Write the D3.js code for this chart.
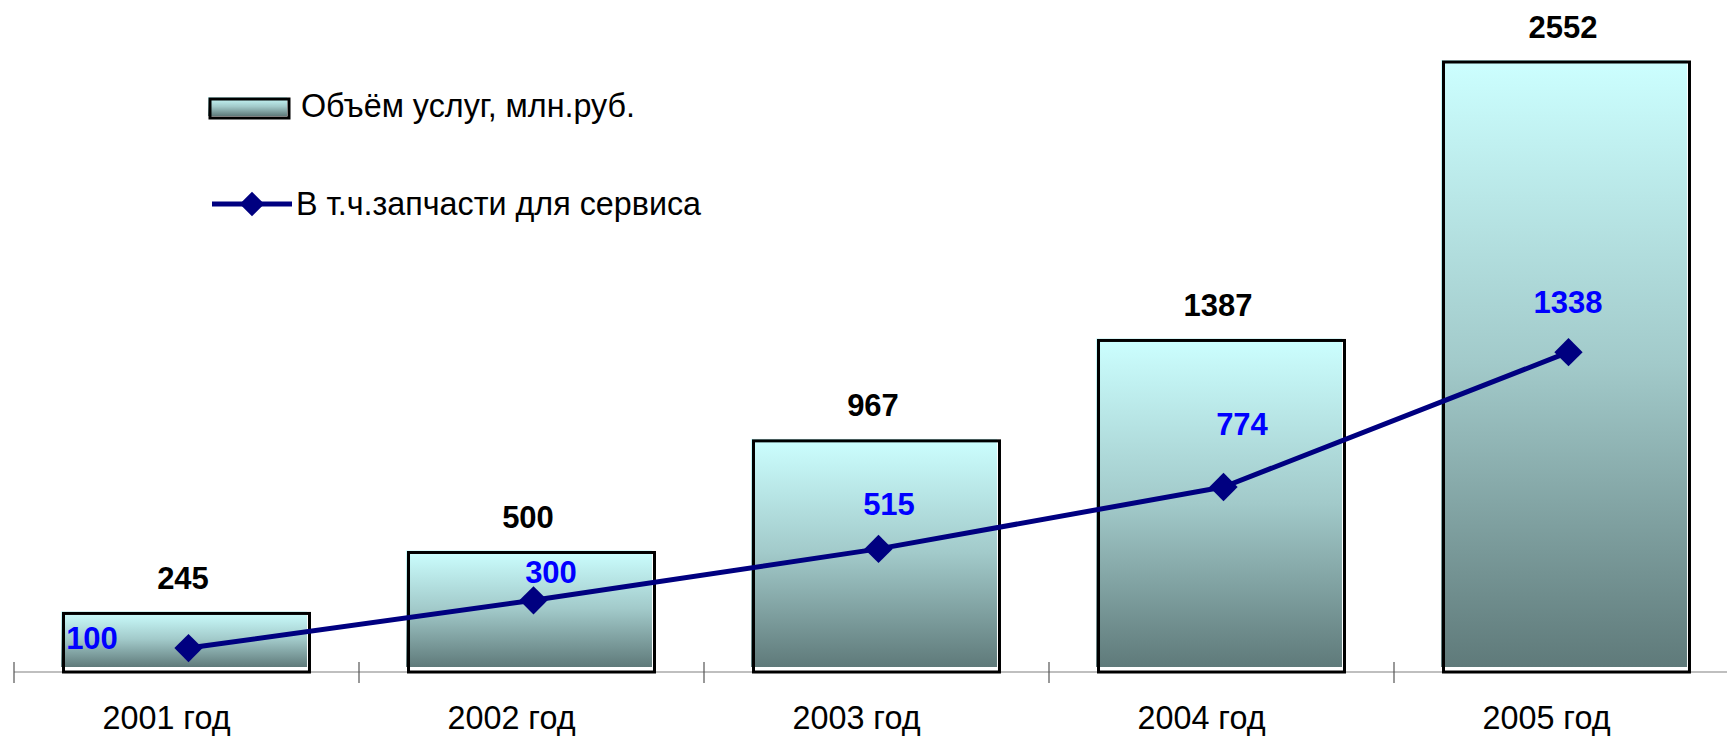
<!DOCTYPE html>
<html>
<head>
<meta charset="utf-8">
<script src="https://cdn.jsdelivr.net/npm/d3@7/dist/d3.min.js"></script>
<style>
  html, body { margin: 0; padding: 0; background: #ffffff; }
  svg { display: block; }
  text { font-family: Arial, "Liberation Sans", sans-serif; }
</style>
</head>
<body>
<svg id="chart" width="1727" height="736"></svg>
<script>
// ---- data ----
const categories = ["2001 год", "2002 год", "2003 год", "2004 год", "2005 год"];
const servicesVolume = [245, 500, 967, 1387, 2552];
const sparePartsForService = [100, 300, 515, 774, 1338];
const seriesNames = ["Объём услуг, млн.руб.", "В т.ч.запчасти для сервиса"];

// ---- layout ----
const W = 1727, H = 736;
const axisY = 672;
const svg = d3.select("#chart");

const xStep = d3.scaleBand().domain(categories).range([14, 1739]).padding(0);
const x = d3.scaleBand().domain(categories).range([14, 1739]).paddingInner(0.287).paddingOuter(0.1435);
const y = d3.scaleLinear().domain([0, 2552]).range([axisY, 62]);

// gradient
const defs = svg.append("defs");
const grad = defs.append("linearGradient").attr("id", "barGrad")
  .attr("x1", 0).attr("y1", 0).attr("x2", 0).attr("y2", 1);
grad.append("stop").attr("offset", "0%").attr("stop-color", "#ccffff");
grad.append("stop").attr("offset", "50%").attr("stop-color", "#a2caca");
grad.append("stop").attr("offset", "100%").attr("stop-color", "#5f7a7a");

// axis line + ticks
svg.append("line").attr("x1", 14).attr("x2", W).attr("y1", axisY).attr("y2", axisY)
  .attr("stroke", "#808080").attr("stroke-width", 1.2);
const tickXs = categories.map(c => xStep(c)).concat([xStep.range()[1]]);
svg.selectAll(".tick").data(tickXs).enter().append("line")
  .attr("x1", d => d).attr("x2", d => d)
  .attr("y1", axisY - 10).attr("y2", axisY + 11)
  .attr("stroke", "#555").attr("stroke-width", 1.2);

// bars
const bars = svg.append("g");
categories.forEach((c, i) => {
  const x0 = x(c), bw = x.bandwidth(), yt = y(servicesVolume[i]);
  bars.append("rect")
    .attr("x", x0 - 2.5).attr("y", yt - 2)
    .attr("width", bw).attr("height", (axisY - 5) - (yt - 2))
    .attr("fill", "url(#barGrad)");
  bars.append("rect")
    .attr("x", x0).attr("y", yt)
    .attr("width", bw).attr("height", axisY - yt)
    .attr("fill", "none").attr("stroke", "#000").attr("stroke-width", 3);
});

// bar value labels
svg.selectAll(".barlab").data(servicesVolume).enter().append("text")
  .attr("x", (d, i) => x(categories[i]) + x.bandwidth() / 2 - 3.5)
  .attr("y", d => y(d) - 24.5)
  .attr("text-anchor", "middle")
  .attr("font-size", 31).attr("font-weight", "bold").attr("fill", "#000")
  .text(d => d);

// category labels
svg.selectAll(".cat").data(categories).enter().append("text")
  .attr("x", d => xStep(d) + xStep.bandwidth() / 2 - 20)
  .attr("y", 729)
  .attr("text-anchor", "middle")
  .attr("font-size", 32.3).attr("fill", "#000")
  .text(d => d);

// line series
const px = i => xStep(categories[i]) + xStep.bandwidth() / 2 + 2;
const line = d3.line().x((d, i) => px(i)).y(d => y(d));
svg.append("path").datum(sparePartsForService)
  .attr("d", line).attr("fill", "none")
  .attr("stroke", "#000080").attr("stroke-width", 5).attr("stroke-linejoin", "round");
const diamond = d3.symbol().type(d3.symbolSquare).size(400);
svg.selectAll(".pt").data(sparePartsForService).enter().append("path")
  .attr("d", diamond)
  .attr("transform", (d, i) => `translate(${px(i)},${y(d)}) rotate(45)`)
  .attr("fill", "#000080");

// line value labels (manual placement offsets, as in the original)
const lineLabelOffsets = [[-96.5, 1], [17.5, -17], [10.5, -34], [18.5, -52], [-0.5, -39]];
svg.selectAll(".linelab").data(sparePartsForService).enter().append("text")
  .attr("x", (d, i) => px(i) + lineLabelOffsets[i][0])
  .attr("y", (d, i) => y(d) + lineLabelOffsets[i][1])
  .attr("text-anchor", "middle")
  .attr("font-size", 31).attr("font-weight", "bold").attr("fill", "#0000ff")
  .text(d => d);

// legend
const lg = svg.append("g");
lg.append("rect").attr("x", 208).attr("y", 97).attr("width", 79).attr("height", 19)
  .attr("fill", "url(#barGrad)");
lg.append("rect").attr("x", 210).attr("y", 99).attr("width", 79).attr("height", 19)
  .attr("fill", "none").attr("stroke", "#000").attr("stroke-width", 3);
lg.append("text").attr("x", 301).attr("y", 117).attr("font-size", 32.3).attr("fill", "#000")
  .text(seriesNames[0]);
lg.append("line").attr("x1", 212).attr("x2", 292).attr("y1", 204).attr("y2", 204)
  .attr("stroke", "#000080").attr("stroke-width", 5);
lg.append("path").attr("d", d3.symbol().type(d3.symbolSquare).size(300))
  .attr("transform", "translate(252,204) rotate(45)").attr("fill", "#000080");
lg.append("text").attr("x", 296).attr("y", 215).attr("font-size", 32.3).attr("fill", "#000")
  .text(seriesNames[1]);
</script>
</body>
</html>
